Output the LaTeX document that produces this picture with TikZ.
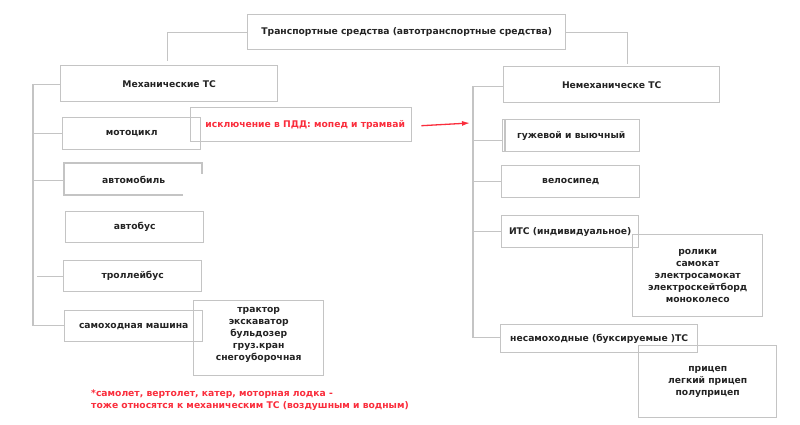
\documentclass[tikz,border=0pt]{standalone}
\usepackage{fontspec}
\setmainfont{DejaVu Sans}
\usetikzlibrary{arrows.meta}
\definecolor{lgray}{RGB}{196,196,196}
\definecolor{tgray}{RGB}{35,35,35}
\definecolor{myred}{RGB}{250,45,60}
\newcommand\mybox[6]{\node[box,anchor=north west,minimum width={#4pt-#2pt},minimum height={#5pt-#3pt}] (#1) at (#2,#3) {#6};}
\begin{document}
\begin{tikzpicture}[x=1pt,y=-1pt,
  box/.style={draw=lgray,line width=1.4pt,inner sep=0pt,text=tgray,align=center,font=\bfseries\fontsize{9.2}{12}\selectfont},
  conn/.style={draw=lgray,line width=1.2pt},
  redtxt/.style={text=myred,font=\bfseries\fontsize{9.2}{12.5}\selectfont}]
\useasboundingbox (0,0) rectangle (800,424);
% top
\mybox{top}{247}{14}{565}{49}{Транспортные средства (автотранспортные средства)}
\mybox{mech}{60}{65}{277}{101}{Механические ТС}
\mybox{nemech}{503}{66}{719}{102}{Немеханическе ТС}
% left column
\mybox{moto}{62}{117}{200}{149}{мотоцикл}
\node[box,draw=none,anchor=north west,minimum width=138pt,minimum height=32pt] (auto) at (64,163) {автомобиль};
\draw[conn,line width=1.4pt] (183,195) -- (64,195) -- (64,163) -- (202,163) -- (202,174);
\mybox{bus}{65}{211}{203}{242}{автобус}
\mybox{troll}{63}{260}{201}{291}{троллейбус}
\mybox{samo}{64}{310}{202}{341}{самоходная машина}
\mybox{tract}{193}{300}{323}{375}{трактор\\экскаватор\\бульдозер\\груз.кран\\снегоуборочная\\[-3pt]}
\node[box,redtxt,anchor=north west,minimum width=221pt,minimum height=34pt] (exc) at (190,107) {\hspace*{8pt}исключение в ПДД: мопед и трамвай};
% right column
\mybox{guz}{502}{119}{639}{151}{гужевой и выючный}
\draw[conn,line width=1.4pt] ([xshift=3pt]guz.north west) -- ([xshift=3pt]guz.south west);
\mybox{velo}{501}{165}{639}{197}{велосипед}
\mybox{its}{501}{215}{638}{247}{ИТС (индивидуальное)}
\mybox{rol}{632}{234}{762}{316}{ролики\\самокат\\электросамокат\\электроскейтборд\\моноколесо}
\mybox{nesam}{500}{324}{697}{352}{несамоходные (буксируемые )ТС}
\mybox{pric}{638}{345}{776}{417}{прицеп\\легкий прицеп\\полуприцеп}
% footnote
\node[redtxt,anchor=north west,align=left,inner sep=0pt] (foot) at (91,389) {*самолет, вертолет, катер, моторная лодка -\\тоже относятся к механическим ТС (воздушным и водным)};
% connectors top
\draw[conn] (top.west) -| ([xshift=-2pt,yshift=4pt]mech.north);
\draw[conn] (top.east) -| ([xshift=16pt,yshift=2pt]nemech.north);
% left spine
\coordinate (ls) at (33,0);
\draw[conn] ([yshift=-1pt]mech.west) -| ([yshift=1pt]ls |- samo.west) -- ([yshift=1pt]samo.west);
\draw[conn] (ls |- moto.west) -- (moto.west);
\draw[conn] ([yshift=-1pt]ls |- auto.west) -- ([yshift=-1pt]auto.west);
\draw[conn] ([xshift=4pt]ls |- troll.west) -- (troll.west);
% right spine
\coordinate (rs) at (473,0);
\draw[conn] ([yshift=-2pt]nemech.west) -| ([yshift=1pt]rs |- nesam.west) -- ([yshift=1pt]nesam.west);
\path ([yshift=-5pt]guz.west) coordinate (gw);
\draw[conn] (rs |- gw) -- (gw);
\draw[conn] (rs |- velo.west) -- (velo.west);
\draw[conn] (rs |- its.west) -- (its.west);
% red arrow
\coordinate (arrend) at (470,123);
\draw[myred,line width=1.3pt,-{Latex[length=8pt,width=5pt]}] ([xshift=9pt,yshift=-1pt]exc.east) -- (arrend);
\end{tikzpicture}
\end{document}
